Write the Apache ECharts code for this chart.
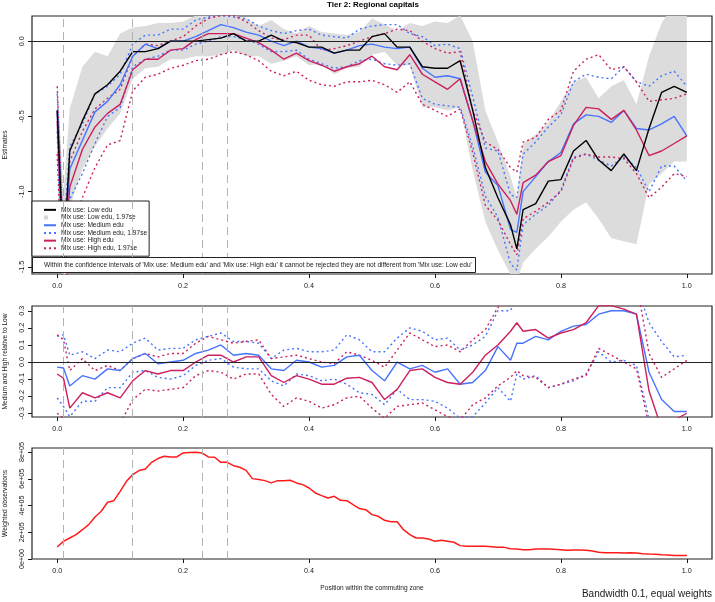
<!DOCTYPE html>
<html>
<head>
<meta charset="utf-8">
<script src="https://cdn.jsdelivr.net/npm/echarts@6/dist/echarts.min.js"></script>
<style>html,body{margin:0;padding:0;background:#fff}#chart{width:715px;height:602px}</style>
</head>
<body>
<div id="chart"></div>
<script>
// positions along the commuting zone (x) used by the estimate curves
var pos = [0, 0.01, 0.02, 0.04, 0.06, 0.08, 0.10, 0.12, 0.14, 0.16,
  0.18, 0.20, 0.22, 0.24, 0.26, 0.28, 0.30, 0.32, 0.34, 0.36,
  0.38, 0.40, 0.42, 0.44, 0.46, 0.48, 0.50, 0.52, 0.54, 0.56,
  0.58, 0.60, 0.62, 0.64, 0.66, 0.68, 0.70, 0.72, 0.73, 0.74,
  0.76, 0.78, 0.80, 0.82, 0.84, 0.86, 0.88, 0.90, 0.92, 0.94,
  0.96, 0.98, 1.00];

// top panel: estimates
var lowEdu = [-0.46, -1.45, -0.73, -0.53, -0.35, -0.29, -0.20, -0.07, -0.07, -0.05,
  0.00, 0.00, 0.00, 0.01, 0.02, 0.05, 0.00, 0.00, 0.04, 0.00,
  -0.01, -0.04, -0.04, -0.08, -0.06, -0.06, 0.03, 0.05, -0.04, -0.04,
  -0.17, -0.18, -0.18, -0.13, -0.46, -0.84, -1.04, -1.22, -1.38, -1.12,
  -1.08, -0.93, -0.92, -0.73, -0.66, -0.79, -0.86, -0.75, -0.86, -0.58,
  -0.34, -0.30, -0.34];
var lowBandUp = [-0.26, -1.00, -0.45, -0.17, -0.07, -0.10, 0.05, 0.09, 0.10, 0.12,
  0.12, 0.13, 0.17, 0.18, 0.18, 0.17, 0.15, 0.10, 0.14, 0.08,
  0.05, 0.10, 0.06, 0.05, 0.04, 0.06, 0.15, 0.11, 0.07, 0.12,
  0.10, 0.13, 0.12, 0.17, 0.00, -0.46, -0.67, -0.90, -1.04, -0.68,
  -0.62, -0.54, -0.40, -0.27, -0.24, -0.38, -0.30, -0.26, -0.42, -0.10,
  0.12, 0.25, 0.25];
var lowBandLo = [-0.70, -1.90, -1.10, -0.85, -0.70, -0.58, -0.48, -0.25, -0.18, -0.17,
  -0.12, -0.12, -0.10, -0.10, -0.09, -0.06, -0.10, -0.10, -0.15, -0.13,
  -0.10, -0.16, -0.15, -0.22, -0.18, -0.17, -0.09, -0.07, -0.16, -0.16,
  -0.44, -0.44, -0.46, -0.44, -0.86, -1.20, -1.39, -1.55, -1.60, -1.47,
  -1.38, -1.30, -1.20, -1.12, -1.07, -1.18, -1.31, -1.33, -1.35, -0.95,
  -0.88, -0.80, -0.80];
var mediumEdu = [-0.46, -1.50, -0.85, -0.66, -0.47, -0.40, -0.29, -0.10, -0.02, -0.05,
  0.00, 0.00, 0.03, 0.07, 0.11, 0.09, 0.06, 0.04, 0.00, -0.03,
  0.00, -0.04, -0.05, -0.08, -0.06, -0.03, -0.02, -0.04, -0.05, -0.04,
  -0.18, -0.24, -0.23, -0.25, -0.53, -0.87, -0.96, -1.25, -1.27, -1.00,
  -0.90, -0.80, -0.74, -0.55, -0.49, -0.50, -0.54, -0.46, -0.58, -0.59,
  -0.55, -0.50, -0.63];
var mediumUp = [-0.35, -1.30, -0.70, -0.55, -0.35, -0.30, -0.22, -0.02, 0.04, 0.04,
  0.08, 0.08, 0.14, 0.16, 0.17, 0.16, 0.15, 0.10, 0.07, 0.05,
  0.07, 0.08, 0.04, 0.03, 0.02, 0.08, 0.10, 0.11, 0.11, 0.05,
  0.03, -0.03, -0.02, -0.05, -0.37, -0.71, -0.73, -1.02, -1.04, -0.75,
  -0.67, -0.57, -0.49, -0.27, -0.22, -0.24, -0.25, -0.17, -0.27, -0.30,
  -0.23, -0.20, -0.30];
var mediumLo = [-0.60, -1.80, -1.05, -0.88, -0.68, -0.50, -0.44, -0.17, -0.12, -0.10,
  -0.06, -0.06, -0.02, 0.00, 0.03, 0.03, 0.01, -0.02, -0.07, -0.07,
  -0.06, -0.12, -0.15, -0.18, -0.17, -0.13, -0.12, -0.15, -0.16, -0.15,
  -0.38, -0.42, -0.43, -0.44, -0.70, -1.03, -1.17, -1.48, -1.52, -1.22,
  -1.15, -1.09, -0.99, -0.77, -0.75, -0.79, -0.83, -0.77, -0.84, -1.00,
  -0.83, -0.83, -0.93];
var highEdu = [-0.53, -1.50, -0.97, -0.72, -0.57, -0.48, -0.42, -0.19, -0.12, -0.12,
  -0.06, -0.05, 0.01, 0.05, 0.05, 0.05, 0.02, -0.01, -0.06, -0.12,
  -0.08, -0.13, -0.16, -0.20, -0.17, -0.15, -0.10, -0.17, -0.19, -0.09,
  -0.22, -0.27, -0.32, -0.25, -0.53, -0.80, -0.95, -1.06, -1.15, -0.94,
  -0.89, -0.80, -0.76, -0.56, -0.44, -0.45, -0.52, -0.46, -0.59, -0.76,
  -0.73, -0.68, -0.63];
var highUp = [-0.30, -1.35, -0.80, -0.60, -0.45, -0.38, -0.32, -0.10, -0.02, -0.03,
  0.00, 0.03, 0.10, 0.15, 0.17, 0.17, 0.13, 0.07, 0.02, 0.01,
  0.04, 0.04, -0.06, -0.05, -0.03, 0.00, 0.03, 0.05, 0.08, 0.07,
  0.00, -0.05, -0.08, -0.07, -0.46, -0.67, -0.72, -0.84, -0.87, -0.67,
  -0.64, -0.52, -0.46, -0.20, -0.12, -0.09, -0.19, -0.17, -0.27, -0.40,
  -0.39, -0.38, -0.35];
var highLo = [-0.75, -1.80, -1.30, -1.04, -0.84, -0.69, -0.66, -0.33, -0.24, -0.22,
  -0.18, -0.16, -0.13, -0.12, -0.09, -0.07, -0.09, -0.13, -0.20, -0.23,
  -0.20, -0.26, -0.29, -0.30, -0.27, -0.27, -0.26, -0.29, -0.34, -0.27,
  -0.42, -0.46, -0.50, -0.45, -0.74, -1.09, -1.19, -1.35, -1.42, -1.18,
  -1.13, -1.07, -1.00, -0.78, -0.75, -0.77, -0.77, -0.78, -0.88, -1.04,
  -0.97, -0.88, -0.90];

// middle panel: medium and high relative to low
var diffMed = [-0.03, -0.035, -0.14, -0.08, -0.10, -0.04, -0.05, 0.02, 0.05, -0.01,
  0.00, 0.01, 0.05, 0.07, 0.10, 0.04, 0.05, 0.04, -0.04, -0.05,
  0.01, 0.00, -0.03, -0.02, 0.03, 0.04, -0.05, -0.11, 0.00, -0.04,
  -0.02, -0.06, -0.04, -0.13, -0.12, -0.05, 0.09, 0.01, 0.11, 0.11,
  0.15, 0.13, 0.18, 0.21, 0.22, 0.28, 0.30, 0.30, 0.28, -0.06,
  -0.22, -0.29, -0.29];
var diffMedUp = [0.15, 0.16, 0.04, 0.06, 0.02, 0.07, 0.06, 0.11, 0.14, 0.07,
  0.08, 0.08, 0.13, 0.15, 0.17, 0.12, 0.12, 0.11, 0.02, 0.07,
  0.08, 0.06, 0.06, 0.07, 0.16, 0.13, 0.06, 0.06, 0.14, 0.20,
  0.18, 0.13, 0.14, 0.07, 0.10, 0.15, 0.30, 0.30, 0.38, 0.40,
  0.42, 0.42, 0.45, 0.45, 0.47, 0.50, 0.50, 0.50, 0.45, 0.23,
  0.12, 0.03, 0.04];
var diffMedLo = [-0.21, -0.26, -0.32, -0.23, -0.23, -0.15, -0.15, -0.06, -0.05, -0.09,
  -0.10, -0.08, -0.02, 0.01, 0.02, -0.03, -0.04, -0.04, -0.11, -0.14,
  -0.07, -0.08, -0.11, -0.10, -0.13, -0.18, -0.19, -0.25, -0.16, -0.22,
  -0.22, -0.23, -0.27, -0.33, -0.32, -0.24, -0.15, -0.23, -0.07, -0.10,
  -0.08, -0.15, -0.13, -0.11, -0.07, 0.06, 0.00, 0.01, -0.02, -0.33,
  -0.55, -0.60, -0.60];
var diffHigh = [-0.07, -0.095, -0.27, -0.18, -0.21, -0.18, -0.21, -0.11, -0.05, -0.07,
  -0.05, -0.05, 0.00, 0.04, 0.04, 0.00, 0.03, 0.03, -0.08, -0.12,
  -0.08, -0.10, -0.13, -0.13, -0.095, -0.09, -0.12, -0.22, -0.16, -0.05,
  -0.04, -0.09, -0.12, -0.13, -0.06, 0.04, 0.10, 0.18, 0.23, 0.18,
  0.19, 0.14, 0.17, 0.19, 0.23, 0.33, 0.33, 0.31, 0.28, -0.17,
  -0.39, -0.34, -0.30];
var diffHighUp = [0.16, 0.13, -0.05, 0.02, -0.05, -0.02, -0.05, 0.02, 0.05, 0.03,
  0.05, 0.05, 0.11, 0.15, 0.13, 0.11, 0.12, 0.13, 0.02, 0.03,
  0.04, 0.02, 0.00, -0.01, 0.06, 0.04, 0.01, -0.03, 0.07, 0.17,
  0.13, 0.09, 0.10, 0.06, 0.13, 0.19, 0.32, 0.40, 0.42, 0.42,
  0.43, 0.42, 0.45, 0.47, 0.48, 0.55, 0.55, 0.53, 0.47, 0.05,
  -0.09, -0.04, 0.01];
var diffHighLo = [-0.30, -0.33, -0.50, -0.40, -0.42, -0.38, -0.36, -0.22, -0.16, -0.17,
  -0.16, -0.15, -0.08, -0.05, -0.06, -0.10, -0.07, -0.07, -0.19, -0.26,
  -0.21, -0.23, -0.27, -0.25, -0.21, -0.20, -0.27, -0.33, -0.26, -0.25,
  -0.24, -0.28, -0.32, -0.34, -0.25, -0.21, -0.14, -0.09, -0.05, -0.08,
  -0.09, -0.15, -0.13, -0.10, -0.08, 0.08, 0.04, 0.00, -0.04, -0.37,
  -0.70, -0.70, -0.70];

// bottom panel: weighted observations, every 0.01
var obsPos = [];
for (var k = 0; k <= 100; k++) obsPos.push(k / 100);
var weightedObs = [90000, 132000, 157000, 182000, 219000, 257000, 314000, 357000, 424000, 436000,
  506000, 581000, 631000, 661000, 673000, 723000, 751000, 768000, 763000, 763000,
  793000, 796000, 798000, 793000, 763000, 761000, 723000, 723000, 698000, 686000,
  663000, 601000, 594000, 586000, 569000, 586000, 586000, 589000, 569000, 556000,
  531000, 494000, 474000, 456000, 469000, 439000, 436000, 406000, 377000, 369000,
  332000, 319000, 289000, 279000, 279000, 219000, 182000, 157000, 157000, 150000,
  132000, 140000, 132000, 125000, 100000, 95000, 95000, 95000, 95000, 92000,
  87000, 87000, 77000, 75000, 70000, 70000, 75000, 75000, 75000, 72000,
  70000, 65000, 67000, 67000, 65000, 60000, 50000, 47000, 47000, 47000,
  45000, 47000, 45000, 40000, 37000, 35000, 32000, 30000, 27000, 27000,
  27000];

// reference positions and tick labels
var cutoffs = [0.01, 0.12, 0.23, 0.27];
var xTicks = [0, 0.2, 0.4, 0.6, 0.8, 1.0];
var yTicksTop = [-1.5, -1.0, -0.5, 0];
var yTicksMid = [-0.3, -0.2, -0.1, 0, 0.1, 0.2, 0.3];
var yTicksBot = [0, 200000, 400000, 600000, 800000];

var FONT = 'Liberation Sans, Arial, Helvetica, sans-serif';
var INK = '#1a1a1a';
var BLUE = '#4673ff';
var RED = '#cc1f5e';
var GREY = '#dcdcdc';

function pairs(xs, ys) {
  return xs.map(function (x, i) { return [x, ys[i]]; });
}

function xAx(gi, name) {
  return {
    type: 'value', gridIndex: gi, min: -0.04, max: 1.04,
    axisLine: { show: false, onZero: false },
    axisTick: { show: true, length: 4, customValues: xTicks, lineStyle: { color: INK } },
    axisLabel: {
      customValues: xTicks, margin: 9, fontSize: 7.2, color: INK, fontFamily: FONT,
      formatter: function (v) { return v.toFixed(1); }
    },
    splitLine: { show: false },
    name: name || '', nameLocation: 'middle', nameGap: 26,
    nameTextStyle: { fontSize: 6.6, color: INK, fontFamily: FONT }
  };
}

function yAx(gi, min, max, ticks, fmt, name) {
  return {
    type: 'value', gridIndex: gi, min: min, max: max,
    axisLine: { show: false, onZero: false },
    axisTick: { show: true, length: 4, customValues: ticks, lineStyle: { color: INK } },
    axisLabel: {
      customValues: ticks, rotate: 90, margin: 6, fontSize: 7.2, color: INK, fontFamily: FONT,
      formatter: fmt
    },
    splitLine: { show: false },
    name: name, nameLocation: 'middle', nameGap: 23, nameRotate: 90,
    nameTextStyle: { fontSize: 6.6, color: INK, fontFamily: FONT }
  };
}

function line(name, xi, xs, ys, color, dotted, width) {
  return {
    type: 'line', name: name, xAxisIndex: xi, yAxisIndex: xi,
    data: pairs(xs, ys), symbol: 'none', silent: true,
    lineStyle: { color: color, width: width || 1.4, type: dotted ? [2, 3] : 'solid' },
    itemStyle: { color: color },
    emphasis: { disabled: true }
  };
}

function grid(top, height) {
  return {
    left: 32, top: top, width: 680, height: height,
    show: true, borderColor: '#222', borderWidth: 1.2,
    containLabel: false, outerBoundsMode: 'none'
  };
}

var cutLines = {
  silent: true, symbol: 'none', label: { show: false },
  lineStyle: { color: '#b3b3b3', type: [8, 5], width: 1 },
  data: cutoffs.map(function (v) { return { xAxis: v }; })
};
var zeroLine = {
  silent: true, symbol: 'none', label: { show: false },
  lineStyle: { color: '#222', type: 'solid', width: 1.2 },
  data: [{ yAxis: 0 }]
};

// confidence band of the low-education estimate, drawn as one polygon
var band = {
  type: 'custom', name: 'Mix use: Low edu, 1.97se', xAxisIndex: 0, yAxisIndex: 0,
  data: pos.map(function (x, i) { return [x, lowBandLo[i], lowBandUp[i]]; }),
  encode: { x: 0, y: [1, 2] },
  clip: true, silent: true,
  itemStyle: { color: GREY },
  renderItem: function (params, api) {
    if (params.dataIndex !== 0) return null;
    var upper = pos.map(function (x, i) { return api.coord([x, lowBandUp[i]]); });
    var lower = pos.map(function (x, i) { return api.coord([x, lowBandLo[i]]); }).reverse();
    return { type: 'polygon', shape: { points: upper.concat(lower) }, style: { fill: GREY } };
  },
  markLine: cutLines
};

var lowLine = line('Mix use: Low edu', 0, pos, lowEdu, '#000000');
lowLine.markLine = zeroLine;

var medDiff = line('Medium relative to Low', 1, pos, diffMed, BLUE);
medDiff.markLine = zeroLine;
var medDiffUp = line('Medium relative to Low, 1.97se', 1, pos, diffMedUp, BLUE, true);
medDiffUp.markLine = cutLines;

var obsLine = line('Weighted observations', 2, obsPos, weightedObs, '#ff1a1a', false, 1.5);
obsLine.markLine = cutLines;

var myChart = echarts.init(document.getElementById('chart'));
var option = {
  animation: false,
  title: [
    {
      text: 'Tier 2: Regional capitals', left: 327, top: 1, padding: 0,
      textStyle: { fontSize: 8, fontWeight: 'bold', color: '#000', fontFamily: FONT }
    },
    {
      text: "Within the confidence intervals of 'Mix use: Medium edu' and 'Mix use: High edu' it cannot be rejected they are not different from 'Mix use: Low edu'",
      left: 32, top: 257, padding: [4, 4, 3, 12],
      borderColor: '#222', borderWidth: 1, backgroundColor: '#fff',
      textStyle: { fontSize: 6.6, lineHeight: 9, fontWeight: 'normal', color: INK, fontFamily: FONT }
    },
    {
      text: 'Bandwidth 0.1, equal weights', right: 3, top: 589, padding: 0,
      textStyle: { fontSize: 10, fontWeight: 'normal', color: INK, fontFamily: FONT }
    }
  ],
  legend: {
    orient: 'vertical', left: 32, top: 201,
    padding: [5, 2, 4, 11], itemGap: 0, itemWidth: 12, itemHeight: 6,
    backgroundColor: '#fff', borderColor: '#222', borderWidth: 1,
    selectedMode: false,
    itemStyle: { opacity: 0 },
    textStyle: { fontSize: 6.6, lineHeight: 7.7, color: INK, fontFamily: FONT },
    data: [
      'Mix use: Low edu',
      { name: 'Mix use: Low edu, 1.97se', icon: 'path://M0,0h4v4h-4zM12,2h0.01v0.01h-0.01z', itemStyle: { color: '#d6d6d6', opacity: 1 } },
      'Mix use: Medium edu',
      'Mix use: Medium edu, 1.97se',
      'Mix use: High edu',
      'Mix use: High edu, 1.97se'
    ]
  },
  grid: [grid(16, 258), grid(306, 111), grid(448, 111)],
  xAxis: [xAx(0), xAx(1), xAx(2, 'Position within the commuting zone')],
  yAxis: [
    yAx(0, -1.547, 0.167, yTicksTop, function (v) { return v.toFixed(1); }, 'Estimates'),
    yAx(1, -0.322, 0.328, yTicksMid, function (v) { return v.toFixed(1); }, 'Medium and High relative to Low'),
    yAx(2, 0, 830000, yTicksBot, function (v) { return v === 0 ? '0e+00' : (v / 100000) + 'e+05'; }, 'Weighted observations')
  ],
  series: [
    band,
    line('Mix use: Medium edu, 1.97se', 0, pos, mediumUp, BLUE, true),
    line('Mix use: Medium edu, 1.97se', 0, pos, mediumLo, BLUE, true),
    line('Mix use: High edu, 1.97se', 0, pos, highUp, RED, true),
    line('Mix use: High edu, 1.97se', 0, pos, highLo, RED, true),
    line('Mix use: Medium edu', 0, pos, mediumEdu, BLUE),
    line('Mix use: High edu', 0, pos, highEdu, RED),
    lowLine,
    medDiffUp,
    line('Medium relative to Low, 1.97se', 1, pos, diffMedLo, BLUE, true),
    line('High relative to Low, 1.97se', 1, pos, diffHighUp, RED, true),
    line('High relative to Low, 1.97se', 1, pos, diffHighLo, RED, true),
    medDiff,
    line('High relative to Low', 1, pos, diffHigh, RED),
    obsLine
  ]
};
myChart.setOption(option);
</script>
</body>
</html>
